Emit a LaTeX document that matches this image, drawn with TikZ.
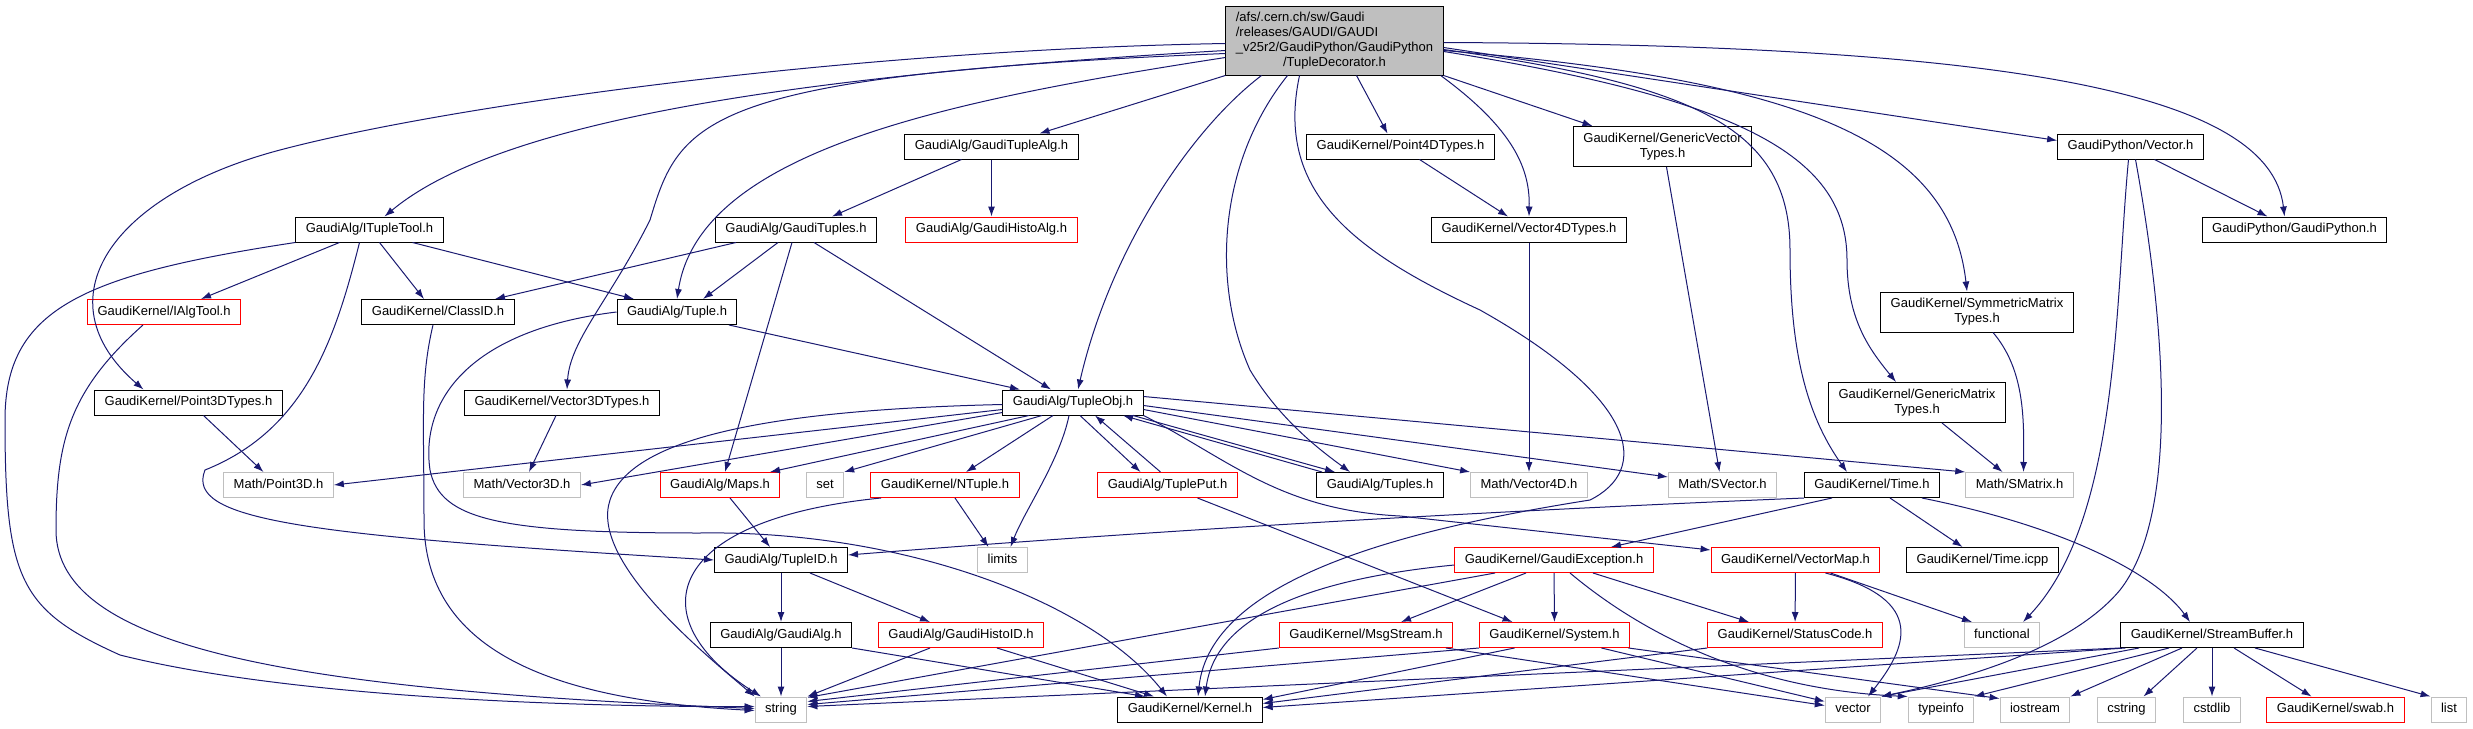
\documentclass[tikz,border=0pt]{standalone}
\usepackage{fontspec}
\setmainfont{Liberation Sans}
\usetikzlibrary{arrows.meta}
\definecolor{edgeblue}{HTML}{191970}
\definecolor{boxgray}{HTML}{BFBFBF}

\begin{document}
\begin{tikzpicture}[x=1pt,y=-1pt]
		\tikzset{box/.style = {shape=rectangle, draw=black, line width=1pt, inner xsep=10pt, font=\fontsize{13}{15}\selectfont}}
		\tikzset{file/.style = {box, minimum height=25pt, inner ysep=0pt, text height=9.5pt, text depth=2.8pt}}
		\tikzset{file2/.style = {box, align=center, minimum height=40pt, inner ysep=2pt}}
		\tikzset{undoc/.style = {draw=red}}
		\tikzset{sysh/.style = {draw=boxgray}}
		\tikzset{dep/.style = {draw=edgeblue, line width=1pt, -{Latex[length=10pt,width=7pt]}}}
		\useasboundingbox (0,0) rectangle (2473,728);
		\node[box, fill=boxgray, inner ysep=4.5pt] (main) at (1334.5,40.5) {\begin{tabular}{@{}l@{}}/afs/.cern.ch/sw/Gaudi\\/releases/GAUDI/GAUDI\\\_v25r2/GaudiPython/GaudiPython\\\multicolumn{1}{@{}c@{}}{/TupleDecorator.h}\end{tabular}};
		\node[file] (gaudituplealg) at (991.5,146.5) {GaudiAlg/GaudiTupleAlg.h};
		\node[file] (point4d) at (1400.5,146.5) {GaudiKernel/Point4DTypes.h};
		\node[file2] (genvec) at (1662.5,146.5) {GaudiKernel/GenericVector\\Types.h};
		\node[file] (pyvector) at (2130.5,146.5) {GaudiPython/Vector.h};
		\node[file] (itupletool) at (369.5,229.5) {GaudiAlg/ITupleTool.h};
		\node[file] (gaudituples) at (796,229.5) {GaudiAlg/GaudiTuples.h};
		\node[file, undoc] (gaudihistoalg) at (991.5,229.5) {GaudiAlg/GaudiHistoAlg.h};
		\node[file] (vector4d) at (1529,229.5) {GaudiKernel/Vector4DTypes.h};
		\node[file] (gaudipython) at (2294.5,229.5) {GaudiPython/GaudiPython.h};
		\node[file, undoc] (ialgtool) at (164,312) {GaudiKernel/IAlgTool.h};
		\node[file] (classid) at (438,312) {GaudiKernel/ClassID.h};
		\node[file] (tuple) at (677,312) {GaudiAlg/Tuple.h};
		\node[file2] (symmat) at (1977,312) {GaudiKernel/SymmetricMatrix\\Types.h};
		\node[file] (point3d) at (188.5,402.5) {GaudiKernel/Point3DTypes.h};
		\node[file] (vector3d) at (562,402.5) {GaudiKernel/Vector3DTypes.h};
		\node[file] (tupleobj) at (1073,402.5) {GaudiAlg/TupleObj.h};
		\node[file2] (genmat) at (1917,402.5) {GaudiKernel/GenericMatrix\\Types.h};
		\node[file, sysh] (mpoint3d) at (278.5,485) {Math/Point3D.h};
		\node[file, sysh] (mvector3d) at (522,485) {Math/Vector3D.h};
		\node[file, undoc] (maps) at (720,485) {GaudiAlg/Maps.h};
		\node[file, sysh] (set) at (825,485) {set};
		\node[file, undoc] (ntuple) at (945,485) {GaudiKernel/NTuple.h};
		\node[file, undoc] (tupleput) at (1167.5,485) {GaudiAlg/TuplePut.h};
		\node[file] (tuples) at (1380,485) {GaudiAlg/Tuples.h};
		\node[file, sysh] (mvector4d) at (1529,485) {Math/Vector4D.h};
		\node[file, sysh] (msvector) at (1722.5,485) {Math/SVector.h};
		\node[file] (time) at (1872,485) {GaudiKernel/Time.h};
		\node[file, sysh] (msmatrix) at (2019.5,485) {Math/SMatrix.h};
		\node[file] (tupleid) at (781,560) {GaudiAlg/TupleID.h};
		\node[file, sysh] (limits) at (1002.5,560) {limits};
		\node[file, undoc] (exception) at (1554,560) {GaudiKernel/GaudiException.h};
		\node[file, undoc] (vectormap) at (1795.5,560) {GaudiKernel/VectorMap.h};
		\node[file] (timeicpp) at (1982.5,560) {GaudiKernel/Time.icpp};
		\node[file] (gaudialg) at (781,635) {GaudiAlg/GaudiAlg.h};
		\node[file, undoc] (histoid) at (961,635) {GaudiAlg/GaudiHistoID.h};
		\node[file, undoc] (msgstream) at (1366,635) {GaudiKernel/MsgStream.h};
		\node[file, undoc] (system) at (1554.5,635) {GaudiKernel/System.h};
		\node[file, undoc] (statuscode) at (1795,635) {GaudiKernel/StatusCode.h};
		\node[file, sysh] (functional) at (2002,635) {functional};
		\node[file] (streambuffer) at (2212,635) {GaudiKernel/StreamBuffer.h};
		\node[file, sysh] (string) at (781,709.5) {string};
		\node[file] (kernel) at (1190,709.5) {GaudiKernel/Kernel.h};
		\node[file, sysh] (vector) at (1853,709.5) {vector};
		\node[file, sysh] (typeinfo) at (1941,709.5) {typeinfo};
		\node[file, sysh] (iostream) at (2035,709.5) {iostream};
		\node[file, sysh] (cstring) at (2126.5,709.5) {cstring};
		\node[file, sysh] (cstdlib) at (2212,709.5) {cstdlib};
		\node[file, undoc] (swab) at (2335.5,709.5) {GaudiKernel/swab.h};
		\node[file, sysh] (list) at (2449,709.5) {list};
		%edges from the main file
		\draw[dep] ([yshift=-3pt]main.west) .. controls (850,50) and (450,105) .. (280,150) .. controls (110,195) and (40,300) .. ([xshift=-45pt]point3d.north);
		\draw[dep] ([yshift=-10pt]main.west) .. controls (800,75) and (500,120) .. ([xshift=15pt]itupletool.north);
		\draw[dep] ([yshift=-13pt]main.west) .. controls (700,75) and (680,120) .. (650,220) .. controls (610,300) and (570,340) .. ([xshift=5pt]vector3d.north);
		\draw[dep] ([yshift=-17pt]main.west) .. controls (950,100) and (700,150) .. (tuple.north);
		\draw[dep] (main.south west) -- ([xshift=48pt]gaudituplealg.north);
		\draw[dep] ([xshift=-73pt]main.south) .. controls (1190,130) and (1110,250) .. ([xshift=5pt]tupleobj.north);
		\draw[dep] ([xshift=-47pt]main.south) .. controls (1220,160) and (1210,280) .. (1250,370) .. controls (1280,420) and (1320,450) .. ([xshift=-30pt]tuples.north);
		\draw[dep] ([xshift=-35pt]main.south) .. controls (1275,190) and (1350,250) .. (1480,310) .. controls (1640,400) and (1650,470) .. (1590,500) .. controls (1400,530) and (1210,580) .. ([xshift=8pt]kernel.north);
		\draw[dep] ([xshift=22pt]main.south) -- ([xshift=-13pt]point4d.north);
		\draw[dep] ([xshift=-3pt]main.south east) .. controls (1515,130) and (1530,170) .. (vector4d.north);
		\draw[dep] (main.south east) -- ([xshift=-70pt]genvec.north);
		\draw[dep] ([yshift=-9pt]main.east) .. controls (1700,85) and (1790,130) .. (1790,250) .. controls (1790,360) and (1810,420) .. ([xshift=-25pt]time.north);
		\draw[dep] ([yshift=-11pt]main.east) .. controls (1750,100) and (1847,160) .. (1847,260) .. controls (1847,320) and (1870,350) .. ([xshift=-21pt]genmat.north);
		\draw[dep] ([yshift=-10pt]main.east) .. controls (1800,80) and (1950,140) .. ([xshift=-10pt]symmat.north);
		\draw[dep] ([yshift=-7pt]main.east) -- ([yshift=6pt]pyvector.west);
		\draw[dep] ([yshift=-2pt]main.east) .. controls (2000,45) and (2270,90) .. ([xshift=-10pt]gaudipython.north);
		%upper layers
		\draw[dep] ([xshift=-30pt]gaudituplealg.south) -- ([xshift=36pt]gaudituples.north);
		\draw[dep] (gaudituplealg) -- (gaudihistoalg);
		\draw[dep] ([xshift=19pt]point4d.south) -- ([xshift=-21pt]vector4d.north);
		\draw[dep] ([xshift=4pt]genvec.south) -- ([xshift=-3pt]msvector.north);
		\draw[dep] (vector4d) -- (mvector4d);
		\draw[dep] ([xshift=24pt]pyvector.south) -- ([xshift=-27pt]gaudipython.north);
		\draw[dep] ([xshift=-2pt]pyvector.south) .. controls (2115,300) and (2120,520) .. ([xshift=21pt]functional.north);
		\draw[dep] ([xshift=5pt]pyvector.south) .. controls (2170,350) and (2175,520) .. (2120,590) .. controls (2070,650) and (1960,680) .. (vector.north east);
		\draw[dep] ([xshift=16pt]symmat.south) .. controls (2025,370) and (2024,420) .. ([xshift=4pt]msmatrix.north);
		\draw[dep] ([xshift=25pt]genmat.south) -- ([xshift=-17pt]msmatrix.north);
		\draw[dep] ([xshift=-30pt]itupletool.south) -- ([xshift=37pt]ialgtool.north);
		\draw[dep] ([xshift=10pt]itupletool.south) -- ([xshift=-14pt]classid.north);
		\draw[dep] ([xshift=43pt]itupletool.south) -- ([xshift=-43pt]tuple.north);
		\draw[dep] (itupletool.south west) .. controls (80,275) and (5,310) .. (5,420) .. controls (5,580) and (20,610) .. (120,655) .. controls (300,700) and (600,707) .. ([yshift=3pt]string.west);
		\draw[dep] ([xshift=-10pt]itupletool.south) .. controls (335,340) and (305,430) .. (205,470) .. controls (185,520) and (300,535) .. (tupleid.west);
		\draw[dep] ([xshift=-21pt]ialgtool.south) .. controls (70,390) and (56,440) .. (56,530) .. controls (56,650) and (300,690) .. ([yshift=1pt]string.west);
		\draw[dep] ([xshift=-5pt]classid.south) .. controls (420,380) and (424,420) .. (424,520) .. controls (424,650) and (550,700) .. ([yshift=-1pt]string.west);
		\draw[dep] (tuple.west) .. controls (470,330) and (420,400) .. (430,470) .. controls (440,520) and (500,533) .. (700,533) .. controls (900,530) and (1090,600) .. ([xshift=-23pt]kernel.north);
		\draw[dep] ([xshift=-60pt]gaudituples.south) -- ([xshift=57pt]classid.north);
		\draw[dep] ([xshift=-18pt]gaudituples.south) -- ([xshift=26pt]tuple.north);
		\draw[dep] ([xshift=-4pt]gaudituples.south) -- ([xshift=5pt]maps.north);
		\draw[dep] ([xshift=18pt]gaudituples.south) -- ([xshift=-22pt]tupleobj.north);
		\draw[dep] ([xshift=52pt]tuple.south) -- ([xshift=-53pt]tupleobj.north);
		\draw[dep] ([xshift=15pt]point3d.south) -- ([xshift=-15pt]mpoint3d.north);
		\draw[dep] ([xshift=-6pt]vector3d.south) -- ([xshift=7pt]mvector3d.north);
		%TupleObj.h
		\draw[dep] ([yshift=-7pt]tupleobj.west) -- (mpoint3d.east);
		\draw[dep] ([yshift=-10pt]tupleobj.west) -- (mvector3d.east);
		\draw[dep] ([yshift=-2pt]tupleobj.west) .. controls (760,410) and (630,440) .. (610,500) .. controls (590,560) and (700,650) .. (string.north west);
		\draw[dep] ([xshift=-44pt]tupleobj.south) -- ([xshift=50pt]maps.north);
		\draw[dep] ([xshift=-31pt]tupleobj.south) -- (set.north east);
		\draw[dep] ([xshift=-20pt]tupleobj.south) -- ([xshift=21pt]ntuple.north);
		\draw[dep] ([xshift=-4pt]tupleobj.south) .. controls (1060,460) and (1025,510) .. ([xshift=8pt]limits.north);
		\draw[dep] ([xshift=7pt]tupleobj.south) -- ([xshift=-27pt]tupleput.north);
		\draw[dep] ([xshift=-7pt]tupleput.north) -- ([xshift=22pt]tupleobj.south);
		\draw[dep] ([xshift=-58pt]tuples.north) -- ([xshift=50pt]tupleobj.south);
		\draw[dep] ([xshift=60pt]tupleobj.south) -- ([xshift=-45pt]tuples.north);
		\draw[dep] ([yshift=-7pt]tupleobj.east) -- (mvector4d.north west);
		\draw[dep] ([yshift=-3pt]tupleobj.east) -- ([yshift=8pt]msvector.west);
		\draw[dep] ([yshift=6pt]tupleobj.east) -- (msmatrix.north west);
		\draw[dep] (tupleobj.south east) .. controls (1230,460) and (1280,510) .. (1400,516) -- ([yshift=10pt]vectormap.west);
		%Time.h
		\draw[dep] (time.south west) .. controls (1400,515) and (1100,535) .. ([yshift=5pt]tupleid.east);
		\draw[dep] ([xshift=-40pt]time.south) -- ([xshift=57pt]exception.north);
		\draw[dep] ([xshift=18pt]time.south) -- ([xshift=-20pt]timeicpp.north);
		\draw[dep] ([xshift=50pt]time.south) .. controls (2080,530) and (2160,580) .. ([xshift=-22pt]streambuffer.north);
		%middle layers
		\draw[dep] ([xshift=10pt]maps.south) -- ([xshift=-11pt]tupleid.north);
		\draw[dep] ([xshift=10pt]ntuple.south) -- ([xshift=-14pt]limits.north);
		\draw[dep] ([xshift=-64pt]ntuple.south) .. controls (660,520) and (640,620) .. ([xshift=-20pt]string.north);
		\draw[dep] ([xshift=30pt]tupleput.south) -- ([xshift=-42pt]system.north);
		\draw[dep] (tupleid) -- (gaudialg);
		\draw[dep] ([xshift=29pt]tupleid.south) -- ([xshift=-31pt]histoid.north);
		\draw[dep] (gaudialg) -- (string);
		\draw[dep] (gaudialg.south east) -- ([xshift=-45pt]kernel.north);
		\draw[dep] ([xshift=-31pt]histoid.south) -- (string.north east);
		\draw[dep] ([xshift=36pt]histoid.south) -- ([xshift=-36pt]kernel.north);
		%GaudiException.h
		\draw[dep] ([yshift=-5pt]exception.west) .. controls (1300,580) and (1215,620) .. ([xshift=15pt]kernel.north);
		\draw[dep] ([xshift=-59pt]exception.south) -- ([yshift=12pt]string.east);
		\draw[dep] ([xshift=-28pt]exception.south) -- ([xshift=35pt]msgstream.north);
		\draw[dep] (exception) -- (system);
		\draw[dep] ([xshift=39pt]exception.south) -- ([xshift=-46pt]statuscode.north);
		\draw[dep] ([xshift=16pt]exception.south) .. controls (1650,640) and (1760,690) .. (typeinfo.north west);
		%lower layers
		\draw[dep] ([xshift=-40pt]system.south) -- ([yshift=10pt]kernel.east);
		\draw[dep] (system.south west) -- ([yshift=5pt]string.east);
		\draw[dep] ([xshift=47pt]system.south) -- ([yshift=8pt]vector.west);
		\draw[dep] ([xshift=74pt]system.south) -- ([yshift=11pt]iostream.west);
		\draw[dep] (msgstream.south west) -- ([yshift=8pt]string.east);
		\draw[dep] ([xshift=80pt]msgstream.south) -- ([yshift=4pt]vector.west);
		\draw[dep] (statuscode.south west) -- ([yshift=6pt]kernel.east);
		\draw[dep] (vectormap) -- (statuscode);
		\draw[dep] ([xshift=35pt]vectormap.south) -- ([xshift=-30pt]functional.north);
		\draw[dep] ([xshift=30pt]vectormap.south) .. controls (1930,600) and (1905,650) .. ([xshift=15pt]vector.north);
		%StreamBuffer.h
		\draw[dep] (streambuffer.south west) -- ([yshift=3pt]string.east);
		\draw[dep] ([xshift=5pt]streambuffer.south west) -- ([yshift=2pt]kernel.east);
		\draw[dep] ([xshift=-73pt]streambuffer.south) -- (vector.north east);
		\draw[dep] ([xshift=-43pt]streambuffer.south) -- (typeinfo.north east);
		\draw[dep] ([xshift=-30pt]streambuffer.south) -- (iostream.north east);
		\draw[dep] ([xshift=-15pt]streambuffer.south) -- ([xshift=17pt]cstring.north);
		\draw[dep] (streambuffer) -- (cstdlib);
		\draw[dep] ([xshift=22pt]streambuffer.south) -- ([xshift=-24pt]swab.north);
		\draw[dep] ([xshift=43pt]streambuffer.south) -- (list.north west);
\end{tikzpicture}
\end{document}
